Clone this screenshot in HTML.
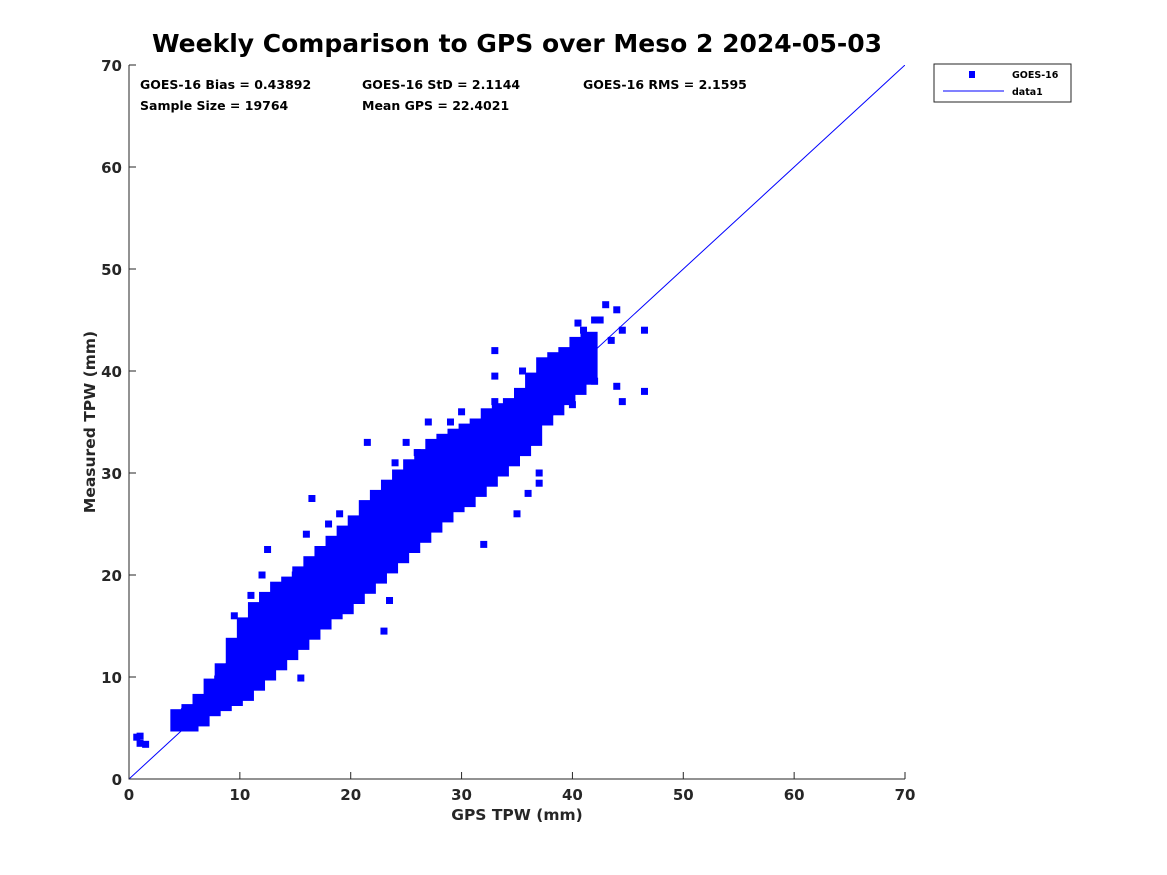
<!DOCTYPE html>
<html><head><meta charset="utf-8"><style>
body{margin:0;background:#fff;}
svg{display:block;font-family:"DejaVu Sans","Liberation Sans",sans-serif;}
</style></head><body>
<svg id="chart" width="1167" height="875">
<rect x="0" y="0" width="1167" height="875" fill="#fff"/>
<text x="517" y="52" font-size="25" font-weight="bold" text-anchor="middle">Weekly Comparison to GPS over Meso 2 2024-05-03</text>
<g id="marks"></g>
<g id="axes"></g>
<text x="517" y="820" font-size="15.5" font-weight="bold" fill="#262626" text-anchor="middle">GPS TPW (mm)</text>
<text x="95" y="422" font-size="15.5" font-weight="bold" fill="#262626" text-anchor="middle" transform="rotate(-90 95 422)">Measured TPW (mm)</text>
<g font-size="12.5" font-weight="bold">
<text x="140" y="89">GOES-16 Bias = 0.43892</text>
<text x="362" y="89">GOES-16 StD = 2.1144</text>
<text x="583" y="89">GOES-16 RMS = 2.1595</text>
<text x="140" y="110">Sample Size = 19764</text>
<text x="362" y="110">Mean GPS = 22.4021</text>
</g>
<g>
<rect x="934" y="64" width="137" height="38" fill="#fff" stroke="#262626" stroke-width="1"/>
<rect x="969" y="71" width="6" height="7" fill="#0000ff"/>
<text x="1012" y="78" font-size="9.5" font-weight="bold">GOES-16</text>
<line x1="943" y1="91" x2="1004" y2="91" stroke="#0000ff" stroke-width="1"/>
<text x="1012" y="95" font-size="9.5" font-weight="bold">data1</text>
</g>
</svg>
<script>
const gpsBins=[4.5,5.5,6.5,7.5,8.5,9.5,10.5,11.5,12.5,13.5,14.5,15.5,16.5,17.5,18.5,19.5,20.5,21.5,22.5,23.5,24.5,25.5,26.5,27.5,28.5,29.5,30.5,31.5,32.5,33.5,34.5,35.5,36.5,37.5,38.5,39.5,40.5,41.5];
const lowVals=[5,5,5.5,6.5,7,7.5,8,9,10,11,12,13,14,15,16,16.5,17.5,18.5,19.5,20.5,21.5,22.5,23.5,24.5,25.5,26.5,27,28,29,30,31,32,33,35,36,37,38,39];
const highVals=[6.5,7,8,9.5,11,13.5,15.5,17,18,19,19.5,20.5,21.5,22.5,23.5,24.5,25.5,27,28,29,30,31,32,33,33.5,34,34.5,35,36,36.5,37,38,39.5,41,41.5,42,43,43.5];
const outX=[0.7,1,1,1.5,5,8,7.5,9,9.5,11,12,12.5,13.5,14,15.5,15,16,16.5,18,19,20,21.5,23,23.5,24,25,26,27,29,28,30,32,33,34,35,36,37,37,38,39,40,41,42,43,44,44.5,46.5,46.5,44,44.5,33,33,35.5,39,40,37,42,36,38,40.5,42.5,43.5];
const outY=[4.1,4.2,3.5,3.4,6.6,9.8,9,11,16,18,20,22.5,13.5,13,9.9,20,24,27.5,25,26,22,33,14.5,17.5,31,33,32,35,35,32,36,23,37,35.5,26,28,30,29,36,38,36.7,44,45,46.5,46,44,44,38,38.5,37,42,39.5,40,39,41,36,39,33,40,44.7,45,43];
const xTicks=[0,10,20,30,40,50,60,70];
const yTicks=[0,10,20,30,40,50,60,70];
const X0=129,X1=905,Y0=779,Y1=65;
function sx(v){return X0+(v/70)*(X1-X0);}
function sy(v){return Y0-(v/70)*(Y0-Y1);}
const NS="http://www.w3.org/2000/svg";
const marks=document.getElementById('marks');
const axes=document.getElementById('axes');
function mk(tag,attrs,parent){const e=document.createElementNS(NS,tag);for(const k in attrs)e.setAttribute(k,attrs[k]);parent.appendChild(e);return e;}
const cp=mk('clipPath',{id:'clip'},marks);mk('rect',{x:X0,y:Y1,width:X1-X0,height:Y0-Y1},cp);
gpsBins.forEach((g,i)=>{
  const r=mk('rect',{x:sx(g-0.5)-3,y:sy(highVals[i])-3.5,width:sx(1)-sx(0)+6,height:sy(lowVals[i])-sy(highVals[i])+7,fill:'#0000ff'},marks);
  
  
});
outX.forEach((g,i)=>{
  const r=mk('rect',{x:sx(g)-3.5,y:sy(outY[i])-3.5,width:7,height:7,fill:'#0000ff'},marks);
  
  
});
const ln=mk('line',{x1:sx(0),y1:sy(0),x2:sx(70),y2:sy(70),stroke:'#0000ff','stroke-width':1,'clip-path':'url(#clip)'},marks);


const ax=mk('path',{d:`M${X0},${Y1}V${Y0}H${X1}`,fill:'none',stroke:'#262626','stroke-width':1},axes);


xTicks.forEach(t=>{
  const tk=mk('line',{x1:sx(t),y1:Y0,x2:sx(t),y2:Y0-7,stroke:'#262626'},axes);
  
  
  const tx=mk('text',{x:sx(t),y:Y0+21,'font-size':15,'font-weight':'bold',fill:'#262626','text-anchor':'middle'},axes);
  tx.textContent=t;
  
  
});
yTicks.forEach(t=>{
  const tk=mk('line',{x1:X0,y1:sy(t),x2:X0+7,y2:sy(t),stroke:'#262626'},axes);
  
  
  const tx=mk('text',{x:X0-7,y:sy(t)+6,'font-size':15,'font-weight':'bold',fill:'#262626','text-anchor':'end'},axes);
  tx.textContent=t;
  
  
});
</script>
</body></html>
